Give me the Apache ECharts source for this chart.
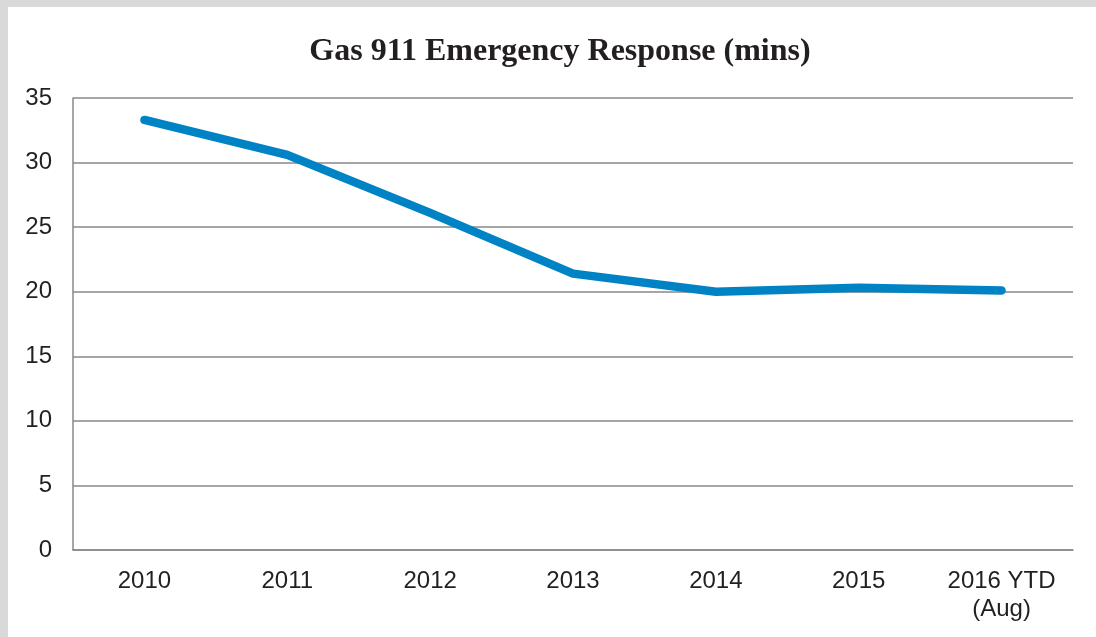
<!DOCTYPE html>
<html>
<head>
<meta charset="utf-8">
<script src="https://cdn.jsdelivr.net/npm/echarts@6/dist/echarts.min.js"></script>
<style>
  html, body { margin: 0; padding: 0; background: #fff; }
  #main { width: 1096px; height: 637px; }
</style>
</head>
<body>
<div id="main"></div>
<script>
const years = ['2010', '2011', '2012', '2013', '2014', '2015', '2016 YTD\n(Aug)'];
const responseMins = [33.3, 30.6, 26.1, 21.4, 20.0, 20.3, 20.1];
const yTicks = { min: 0, max: 35, step: 5 };

const chart = echarts.init(document.getElementById('main'));
chart.setOption({
  animation: false,
  backgroundColor: '#fff',
  graphic: [
    { type: 'rect', shape: { x: 0, y: 0, width: 1096, height: 7 }, style: { fill: '#d9d9d9' }, silent: true },
    { type: 'rect', shape: { x: 0, y: 0, width: 8, height: 637 }, style: { fill: '#d9d9d9' }, silent: true }
  ],
  title: {
    text: 'Gas 911 Emergency Response (mins)',
    left: 555,
    top: 31,
    textAlign: 'center',
    textStyle: {
      fontFamily: '"Liberation Serif", "Times New Roman", serif',
      fontWeight: 'bold',
      fontSize: 32,
      color: '#231f20'
    }
  },
  grid: { left: 73, right: 23, top: 98, bottom: 87, containLabel: false },
  xAxis: {
    type: 'category',
    data: years,
    boundaryGap: true,
    axisLine: { show: true, lineStyle: { color: '#898989', width: 1.5 } },
    axisTick: { show: false },
    axisLabel: {
      margin: 17,
      fontFamily: '"Liberation Sans", Arial, sans-serif',
      fontSize: 24,
      lineHeight: 28,
      color: '#231f20'
    }
  },
  yAxis: {
    type: 'value',
    min: yTicks.min,
    max: yTicks.max,
    interval: yTicks.step,
    axisLine: { show: true, lineStyle: { color: '#898989', width: 1.5 } },
    axisTick: { show: false },
    splitLine: { lineStyle: { color: '#898989', width: 1.5 } },
    axisLabel: {
      margin: 21,
      fontFamily: '"Liberation Sans", Arial, sans-serif',
      fontSize: 24,
      color: '#231f20'
    }
  },
  series: [{
    type: 'line',
    data: responseMins,
    symbol: 'none',
    lineStyle: { color: '#0083c4', width: 8.5, cap: 'round', join: 'round' }
  }]
});
</script>
</body>
</html>
